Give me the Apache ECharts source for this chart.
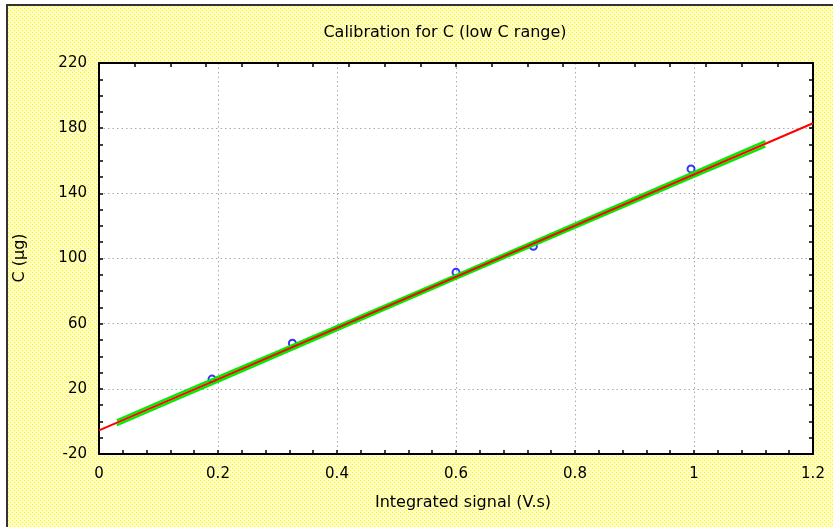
<!DOCTYPE html>
<html>
<head>
<meta charset="utf-8">
<script src="https://cdn.jsdelivr.net/npm/echarts@6/dist/echarts.min.js"></script>
<style>html,body{margin:0;padding:0;background:#fff;}#c{width:833px;height:527px;}</style>
</head>
<body>
<div id="c"></div>
<script>
// ---- data ----
const titleText = 'Calibration for C (low C range)';
const xName = 'Integrated signal (V.s)';
const yName = 'C (µg)';
const pointX = [0.19, 0.325, 0.60, 0.73, 0.995];
const pointY = [26, 48, 91.5, 107.5, 155];
const fitX = [0, 1.2];
const fitY = [-5.5, 183];
const bandX = [0.03, 0.2, 0.4, 0.6, 0.8, 1.0, 1.12];
const bandUpper = [0.7, 27.3, 58.5, 89.8, 121.4, 153.0, 172.0];
const bandLower = [-2.3, 24.5, 56.1, 87.7, 119.0, 150.2, 168.8];
const xTicks = [0, 1.2, 0.2];     // min, max, interval
const yTicks = [-20, 220, 40];    // min, max, interval

// ---- background dither pattern ----
const tile = document.createElement('canvas');
tile.width = 4; tile.height = 4;
const tc = tile.getContext('2d');
tc.fillStyle = '#ffffff'; tc.fillRect(0, 0, 4, 4);
function dot(x, y) {
  tc.fillStyle = '#fffb9a';
  [[1,0],[-1,0],[0,1],[0,-1]].forEach(d => tc.fillRect((x + d[0] + 4) % 4, (y + d[1] + 4) % 4, 1, 1));
  tc.fillStyle = '#ffff00'; tc.fillRect(x, y, 1, 1);
}
dot(0, 0); dot(2, 2);

const zip = (a, b) => a.map((v, i) => [v, b[i]]);
const font = 'DejaVu Sans';
const line = {onZero: false, lineStyle: {color: '#000', width: 2}};
const tick = {inside: true, length: 4, lineStyle: {color: '#000', width: 1.5}};

const chart = echarts.init(document.getElementById('c'), null, {renderer: 'canvas'});
chart.setOption({
  animation: false,
  backgroundColor: {image: tile, repeat: 'repeat'},
  grid: {left: 99, top: 63, right: 20, bottom: 73, backgroundColor: '#ffffff', show: true, borderWidth: 0},
  xAxis: [{
    type: 'value', position: 'bottom', min: xTicks[0], max: xTicks[1], interval: xTicks[2],
    axisLine: line, axisTick: tick,
    minorTick: {show: true, splitNumber: 5, length: 4, lineStyle: {color: '#000', width: 1.5}},
    axisLabel: {margin: 13, fontFamily: font, fontSize: 15, color: '#000'},
    splitLine: {show: true, lineStyle: {color: '#aaaaaa', width: 1, type: [1.5, 3]}}
  }, {
    type: 'value', position: 'top', min: -0.048, max: 1.152, interval: 0.06,
    axisLine: line, axisTick: tick,
    axisLabel: {show: false}, splitLine: {show: false}
  }],
  yAxis: [{
    type: 'value', position: 'left', min: yTicks[0], max: yTicks[1], interval: yTicks[2],
    axisLine: line, axisTick: tick,
    minorTick: {show: true, splitNumber: 4, length: 4, lineStyle: {color: '#000', width: 1.5}},
    axisLabel: {margin: 12, fontFamily: font, fontSize: 15, color: '#000'},
    splitLine: {show: true, lineStyle: {color: '#aaaaaa', width: 1, type: [1.5, 3]}}
  }, {
    type: 'value', position: 'right', min: yTicks[0], max: yTicks[1], interval: 10,
    axisLine: line, axisTick: tick,
    axisLabel: {show: false}, splitLine: {show: false}
  }],
  series: [{
    type: 'scatter', xAxisIndex: 0, yAxisIndex: 0, z: 2,
    data: zip(pointX, pointY), symbol: 'circle', symbolSize: 7,
    itemStyle: {color: 'rgba(0,0,0,0)', borderColor: '#0000ff', borderWidth: 2}
  }, {
    type: 'line', xAxisIndex: 0, yAxisIndex: 0, z: 3, smooth: 0.3, showSymbol: false,
    data: zip(bandX, bandUpper), lineStyle: {color: '#00ee00', width: 2.5}
  }, {
    type: 'line', xAxisIndex: 0, yAxisIndex: 0, z: 3, smooth: 0.3, showSymbol: false,
    data: zip(bandX, bandLower), lineStyle: {color: '#00ee00', width: 2.5}
  }, {
    type: 'line', xAxisIndex: 0, yAxisIndex: 0, z: 4, showSymbol: false,
    data: zip(fitX, fitY), lineStyle: {color: '#ff0000', width: 2}
  }],
  graphic: [
    {type: 'rect', left: 0, top: 0, shape: {width: 833, height: 4}, style: {fill: '#fff'}, z: 0},
    {type: 'rect', left: 0, top: 0, shape: {width: 6, height: 527}, style: {fill: '#fff'}, z: 0},
    {type: 'rect', left: 6, top: 4, shape: {width: 827, height: 2}, style: {fill: '#333'}, z: 1},
    {type: 'rect', left: 6, top: 4, shape: {width: 2, height: 523}, style: {fill: '#333'}, z: 1},
    {type: 'text', x: 445, y: 33, style: {text: titleText, font: '16px "DejaVu Sans"', fill: '#000', textAlign: 'center', textVerticalAlign: 'middle'}},
    {type: 'text', x: 463, y: 503, style: {text: xName, font: '16px "DejaVu Sans"', fill: '#000', textAlign: 'center', textVerticalAlign: 'middle'}},
    {type: 'text', x: 20, y: 258, rotation: Math.PI / 2, style: {text: yName, font: '16px "DejaVu Sans"', fill: '#000', textAlign: 'center', textVerticalAlign: 'middle'}}
  ]
});
</script>
</body>
</html>
